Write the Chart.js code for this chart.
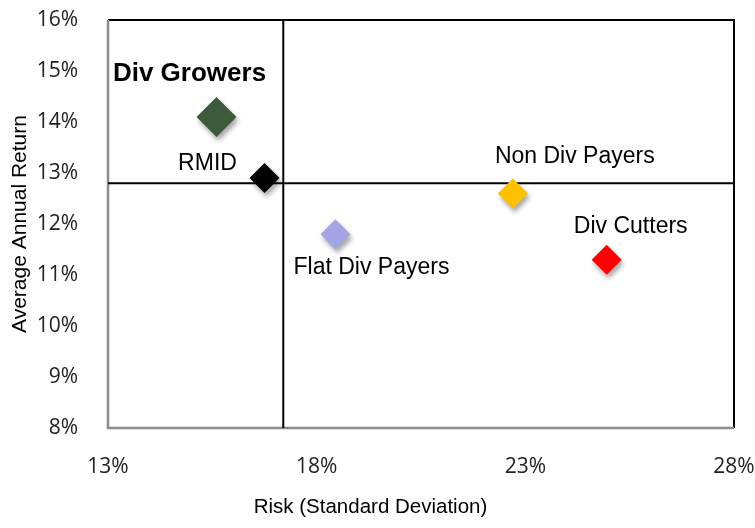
<!DOCTYPE html>
<html>
<head>
<meta charset="utf-8">
<script src="https://cdn.jsdelivr.net/npm/chart.js@4/dist/chart.umd.min.js"></script>
<style>
  html, body { margin: 0; padding: 0; background: #fff; }
</style>
</head>
<body>
<canvas id="chart" width="755" height="528"></canvas>
<script>
// data
const groups = ['Div Growers', 'RMID', 'Non Div Payers', 'Flat Div Payers', 'Div Cutters'];
const risk = [15.6, 16.75, 22.7, 18.45, 24.95];      // x, %
const avgReturn = [14.1, 12.9, 12.6, 11.8, 11.3];    // y, %
const colors = ['#3d5a3c', '#000000', '#ffc000', '#a5a5e6', '#ff0000'];
const crossRisk = 17.2;
const crossReturn = 12.8;
const xRange = [13, 28];
const yRange = [8, 16];
const xTitle = 'Risk (Standard Deviation)';
const yTitle = 'Average Annual Return';

// label placement relative to each diamond
const labelStyle = [
  { dx: -27, dy: -43, font: 'bold 26px "Liberation Sans", Arial, sans-serif' },
  { dx: -57, dy: -14, font: '23px "Liberation Sans", Arial, sans-serif' },
  { dx: 62, dy: -37, font: '23px "Liberation Sans", Arial, sans-serif' },
  { dx: 36, dy: 33, font: '23px "Liberation Sans", Arial, sans-serif' },
  { dx: 24, dy: -33, font: '23px "Liberation Sans", Arial, sans-serif' }
];
const pointSizes = [20, 15, 15, 15, 15];

const ctx = document.getElementById('chart');

const pointsData = groups.map((g, i) => ({ x: risk[i], y: avgReturn[i] }));

const framePlugin = {
  id: 'frame',
  beforeDatasetsDraw(chart) {
    const a = chart.chartArea;
    const c = chart.ctx;
    c.save();
    c.lineWidth = 2;
    c.strokeStyle = '#000';
    c.beginPath();
    c.moveTo(a.left, a.top);
    c.lineTo(a.right, a.top);
    c.lineTo(a.right, a.bottom);
    c.stroke();
    c.strokeStyle = '#8c8c8c';
    c.lineWidth = 2.5;
    c.beginPath();
    c.moveTo(a.left, a.top);
    c.lineTo(a.left, a.bottom);
    c.lineTo(a.right, a.bottom);
    c.stroke();
    c.restore();
  }
};

const shadowPlugin = {
  id: 'shadow',
  beforeDatasetDraw(chart, args) {
    if (args.index !== 0) return;
    const c = chart.ctx;
    c.save();
    c.shadowColor = 'rgba(0,0,0,0.35)';
    c.shadowBlur = 5;
    c.shadowOffsetX = 2;
    c.shadowOffsetY = 4;
  },
  afterDatasetDraw(chart, args) {
    if (args.index !== 0) return;
    chart.ctx.restore();
  }
};

const labelPlugin = {
  id: 'pointLabels',
  afterDatasetsDraw(chart) {
    const c = chart.ctx;
    const meta = chart.getDatasetMeta(0);
    c.save();
    c.fillStyle = '#000';
    c.textAlign = 'center';
    c.textBaseline = 'middle';
    meta.data.forEach((el, i) => {
      const s = labelStyle[i];
      c.font = s.font;
      c.fillText(groups[i], el.x + s.dx, el.y + s.dy);
    });
    c.restore();
  }
};

// x-axis title sits centred on the whole figure, not on the plot area
const xTitlePlugin = {
  id: 'xTitle',
  afterDraw(chart) {
    const c = chart.ctx;
    c.save();
    c.fillStyle = '#000';
    c.font = '20.5px "Liberation Sans", Arial, sans-serif';
    c.textAlign = 'center';
    c.textBaseline = 'middle';
    c.fillText(xTitle, chart.width / 2 - 7, chart.height - 21);
    c.restore();
  }
};

const tickFont = { family: '"Open Sans", sans-serif', size: 21 };

const config = {
  type: 'scatter',
  data: {
    datasets: [{
      label: 'Groups',
      data: pointsData,
      pointStyle: 'rectRot',
      pointRadius: pointSizes,
      pointHoverRadius: pointSizes,
      pointBackgroundColor: colors,
      pointBorderColor: colors,
      pointBorderWidth: 0,
      order: 0
    }, {
      type: 'line',
      label: 'risk line',
      data: [{ x: crossRisk, y: yRange[0] }, { x: crossRisk, y: yRange[1] }],
      borderColor: '#000',
      borderWidth: 2,
      pointRadius: 0,
      order: 1
    }, {
      type: 'line',
      label: 'return line',
      data: [{ x: xRange[0], y: crossReturn }, { x: xRange[1], y: crossReturn }],
      borderColor: '#000',
      borderWidth: 2,
      pointRadius: 0,
      order: 1
    }]
  },
  options: {
    responsive: false,
    animation: false,
    layout: { padding: { top: 20, right: 21, left: 0, bottom: 0 } },
    plugins: {
      legend: { display: false },
      tooltip: { enabled: false }
    },
    scales: {
      x: {
        type: 'linear',
        min: xRange[0],
        max: xRange[1],
        grid: { display: false },
        border: { display: false },
        ticks: {
          stepSize: 5,
          padding: 18,
          color: '#222',
          font: tickFont,
          callback: v => v + '%'
        },
        afterFit(scale) {
          scale.height = 100;
          scale.paddingLeft = 0;
          scale.paddingRight = 0;
        }
      },
      y: {
        type: 'linear',
        min: yRange[0],
        max: yRange[1],
        grid: { display: false },
        border: { display: false },
        ticks: {
          stepSize: 1,
          padding: 22,
          color: '#222',
          font: tickFont,
          callback: v => v + '%'
        },
        title: {
          display: true,
          text: yTitle,
          color: '#000',
          font: { family: '"Liberation Sans", Arial, sans-serif', size: 21 },
          padding: { top: 8, bottom: 0 }
        },
        afterFit(scale) {
          scale.width = 108;
          scale.paddingTop = 0;
          scale.paddingBottom = 0;
        }
      }
    }
  },
  plugins: [framePlugin, shadowPlugin, labelPlugin, xTitlePlugin]
};

const myChart = new Chart(ctx, config);
</script>
</body>
</html>
